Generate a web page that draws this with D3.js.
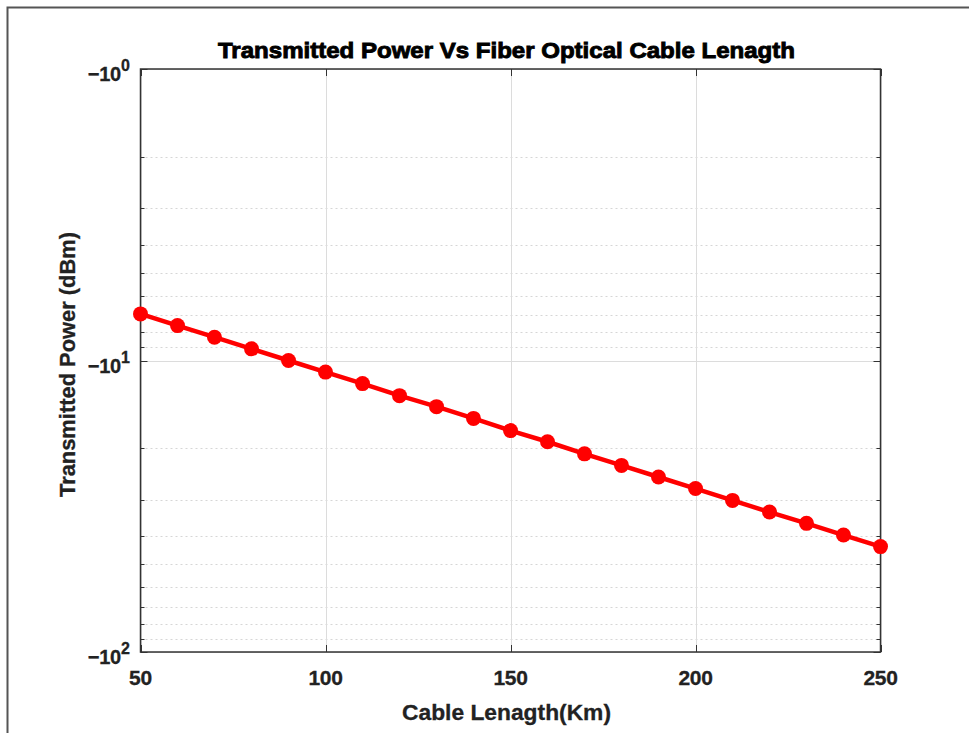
<!DOCTYPE html>
<html><head><meta charset="utf-8">
<script src="https://cdn.jsdelivr.net/npm/d3@7"></script>
<style>body{margin:0;background:#fff}svg{display:block}text{font-family:"Liberation Sans",Arial,sans-serif}</style>
</head><body><svg id="c" width="969" height="733"></svg>
<script>
const cableLength = [50,60,70,80,90,100,110,120,130,140,150,160,170,180,190,200,210,220,230,240,250];
const transmittedPower = [-6.92,-7.59,-8.32,-9.12,-10.0,-10.96,-12.0,-13.2,-14.4,-15.8,-17.4,-19.0,-20.9,-22.9,-25.1,-27.5,-30.2,-33.1,-36.2,-39.7,-43.5];
const xTicks = [50,100,150,200,250];
const yMajorTicks = [-1,-10,-100];
const yTickExp = ["0","1","2"];
const yMinorTicks = [-2,-3,-4,-5,-6,-7,-8,-9,-20,-30,-40,-50,-60,-70,-80,-90];

const svg = d3.select("#c");
const L=140.5,R=880.5,T=69,B=652;
const x = d3.scaleLinear().domain([50,250]).range([L,R]);
const y = d3.scaleLog().domain([-1,-100]).range([T,B]);

// outer frame
svg.append("path").attr("d","M7.5,733 V7.5 H969").attr("fill","none").attr("stroke","#555").attr("stroke-width",2);

// grid
const g = svg.append("g");
g.selectAll(".ymin").data(yMinorTicks).join("line")
 .attr("x1",L).attr("x2",R).attr("y1",d=>Math.round(y(d))+0.5).attr("y2",d=>Math.round(y(d))+0.5)
 .attr("stroke","#d6d6d6").attr("stroke-dasharray","2,3");
g.selectAll(".ymaj").data(yMajorTicks).join("line")
 .attr("x1",L).attr("x2",R).attr("y1",d=>Math.round(y(d))+0.5).attr("y2",d=>Math.round(y(d))+0.5)
 .attr("stroke","#dcdcdc");
g.selectAll(".xg").data(xTicks).join("line")
 .attr("y1",T).attr("y2",B).attr("x1",d=>Math.round(x(d))+0.5).attr("x2",d=>Math.round(x(d))+0.5)
 .attr("stroke","#dcdcdc");

// tick marks (inward, both sides)
const tk = svg.append("g").attr("stroke","#333");
xTicks.forEach(d=>{const px=Math.round(x(d))+0.5;
 tk.append("line").attr("x1",px).attr("x2",px).attr("y1",B).attr("y2",B-7);
 tk.append("line").attr("x1",px).attr("x2",px).attr("y1",T).attr("y2",T+7);});
yMajorTicks.forEach(d=>{const py=Math.round(y(d))+0.5;
 tk.append("line").attr("x1",L).attr("x2",L+7).attr("y1",py).attr("y2",py);
 tk.append("line").attr("x1",R).attr("x2",R-7).attr("y1",py).attr("y2",py);});
yMinorTicks.forEach(d=>{const py=Math.round(y(d))+0.5;
 tk.append("line").attr("x1",L).attr("x2",L+4).attr("y1",py).attr("y2",py);
 tk.append("line").attr("x1",R).attr("x2",R-4).attr("y1",py).attr("y2",py);});

// axes box
svg.append("rect").attr("x",L).attr("y",T).attr("width",R-L).attr("height",B-T)
 .attr("fill","none").attr("stroke","#333").attr("stroke-width",1.5);

// x tick labels
svg.selectAll(".xl").data(xTicks).join("text")
 .attr("x",d=>x(d)).attr("y",B+33).attr("text-anchor","middle")
 .attr("font-size",21).attr("font-weight","bold").attr("fill","#222").attr("letter-spacing","-0.3")
 .attr("stroke","#222").attr("stroke-width",0.3)
 .text(d=>d);

// y tick labels
yMajorTicks.forEach((d,i)=>{
 const t = svg.append("text").attr("x",L-11).attr("y",y(d)+12).attr("text-anchor","end")
  .attr("font-size",20).attr("font-weight","bold").attr("fill","#222").attr("letter-spacing","-0.3")
  .attr("stroke","#222").attr("stroke-width",0.3);
 t.append("tspan").text("\u2212"+"10");
 t.append("tspan").attr("dy",-10).attr("font-size",16).text(yTickExp[i]);
});

// line & markers
const line = d3.line().x((d,i)=>x(cableLength[i])).y(d=>y(d));
svg.append("path").datum(transmittedPower).attr("d",line)
 .attr("fill","none").attr("stroke","#ff0000").attr("stroke-width",4.5);
svg.selectAll(".pt").data(transmittedPower).join("circle")
 .attr("cx",(d,i)=>x(cableLength[i])).attr("cy",d=>y(d)).attr("r",7.5).attr("fill","#ff0000");

// title & labels
svg.append("text").attr("x",218).attr("y",58)
 .attr("font-size",22).attr("font-weight","bold").attr("fill","#000")
 .attr("stroke","#000").attr("stroke-width",0.9)
 .attr("textLength",577).attr("lengthAdjust","spacingAndGlyphs")
 .text("Transmitted Power Vs Fiber Optical Cable Lenagth");
svg.append("text").attr("x",402).attr("y",720)
 .attr("font-size",22).attr("font-weight","bold").attr("fill","#222")
 .attr("stroke","#222").attr("stroke-width",0.3)
 .attr("textLength",209).attr("lengthAdjust","spacingAndGlyphs")
 .text("Cable Lenagth(Km)");
svg.append("text").attr("transform",`translate(75,497) rotate(-90)`)
 .attr("font-size",22).attr("font-weight","bold").attr("fill","#222")
 .attr("stroke","#222").attr("stroke-width",0.3)
 .attr("textLength",265).attr("lengthAdjust","spacingAndGlyphs")
 .text("Transmitted Power (dBm)");
</script></body></html>
